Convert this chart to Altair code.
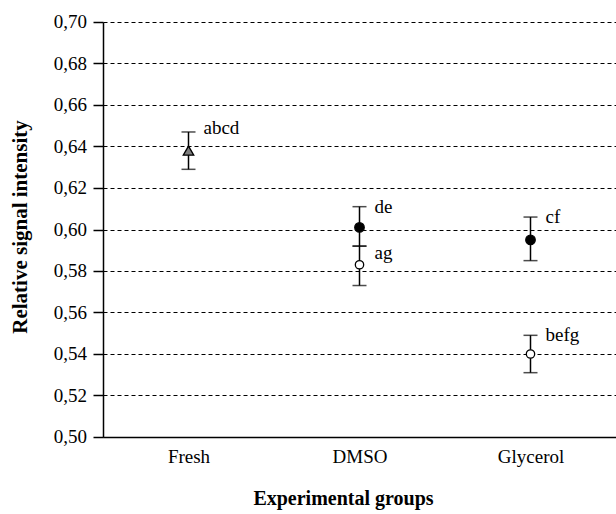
import altair as alt
import pandas as pd

groups = ["Fresh", "DMSO", "DMSO", "Glycerol", "Glycerol"]
markers = ["triangle", "filled", "open", "filled", "open"]
means = [0.638, 0.601, 0.583, 0.595, 0.540]
lows = [0.629, 0.592, 0.573, 0.585, 0.531]
highs = [0.647, 0.611, 0.592, 0.606, 0.549]
letters = ["abcd", "de", "ag", "cf", "befg"]
categories = ["Fresh", "DMSO", "Glycerol"]
y_ticks = [0.50, 0.52, 0.54, 0.56, 0.58, 0.60, 0.62, 0.64, 0.66, 0.68, 0.70]
y_title = ["Relative signal intensity"]

df = pd.DataFrame({
    "group": groups, "marker": markers, "mean": means,
    "lo": lows, "hi": highs, "label": letters,
})
ticks_df = pd.DataFrame({"tick": y_ticks})
title_df = pd.DataFrame({"title": y_title})

FONT = "Liberation Serif"

x = alt.X("group:N", scale=alt.Scale(domain=categories, type="point", padding=0.5),
          axis=alt.Axis(title="Experimental groups", labelAngle=0, ticks=False,
                        labelFontSize=19, labelPadding=10, labelFont=FONT, labelColor="black",
                        titleFont=FONT, titleFontSize=20, titleFontWeight="bold", titleColor="black",
                        titlePadding=22, titleX=240,
                        domainColor="black", domainWidth=1.5, grid=False))
y_scale = alt.Scale(domain=[0.5, 0.7], nice=False, zero=False)
y_axis = alt.Axis(
    title=None,
    values=y_ticks,
    labels=False,
    tickSize=10, tickColor="black", tickWidth=1.5,
    domainColor="black", domainWidth=1.5,
    grid=True, gridColor="black", gridDash=[4, 3], gridWidth=1, gridOpacity=1,
)


def Y(field):
    return alt.Y(field, scale=y_scale, axis=y_axis)


base = alt.Chart(df)

rules = base.mark_rule(color="black", strokeWidth=1.5).encode(
    x=x, y=Y("lo:Q"), y2="hi:Q",
)

caps_hi = base.mark_tick(color="black", size=14, thickness=1.5).encode(x=x, y=Y("hi:Q"))
caps_lo = base.mark_tick(color="black", size=14, thickness=1.5).encode(x=x, y=Y("lo:Q"))

points = base.mark_point(stroke="black", strokeWidth=1.3, opacity=1, filled=False).encode(
    x=x,
    y=Y("mean:Q"),
    shape=alt.Shape("marker:N", scale=alt.Scale(domain=["triangle", "filled", "open"],
                                                 range=["triangle-up", "circle", "circle"]), legend=None),
    fill=alt.Fill("marker:N", scale=alt.Scale(domain=["triangle", "filled", "open"],
                                               range=["#7f7f7f", "black", "white"]), legend=None),
    size=alt.Size("marker:N", scale=alt.Scale(domain=["triangle", "filled", "open"],
                                               range=[110, 70, 70]), legend=None),
)


def label_layer(cond, dy):
    return base.transform_filter(cond).mark_text(
        align="left", baseline="middle", dx=15, dy=dy, font=FONT, fontSize=19, color="black"
    ).encode(x=x, y=Y("hi:Q"), text="label:N")


text_a = label_layer("datum.label == 'abcd'", -4)
text_b = label_layer("datum.label != 'abcd' && datum.label != 'ag'", 0)
text_c = label_layer("datum.label == 'ag'", 7)

tick_labels = alt.Chart(ticks_df).transform_calculate(
    txt="replace(format(datum.tick, '.2f'), '.', ',')"
).mark_text(align="right", baseline="middle", font=FONT, fontSize=19, color="black").encode(
    x=alt.value(-16), y=Y("tick:Q"), text="txt:N"
)

title_y = alt.Chart(title_df).mark_text(
    align="center", baseline="middle", angle=270, font=FONT, fontSize=21,
    fontWeight="bold", color="black"
).encode(x=alt.value(-82), y=alt.value(205), text="title:N")

chart = alt.layer(rules, caps_hi, caps_lo, points, text_a, text_b, text_c,
                  tick_labels, title_y).properties(
    width=513, height=415,
    autosize=alt.AutoSizeParams(type="none"),
    padding={"left": 103, "top": 22, "right": 0, "bottom": 77},
    background="white",
).configure_view(stroke=None)

chart.save("out.html", embed_options={"renderer": "svg", "actions": False})
